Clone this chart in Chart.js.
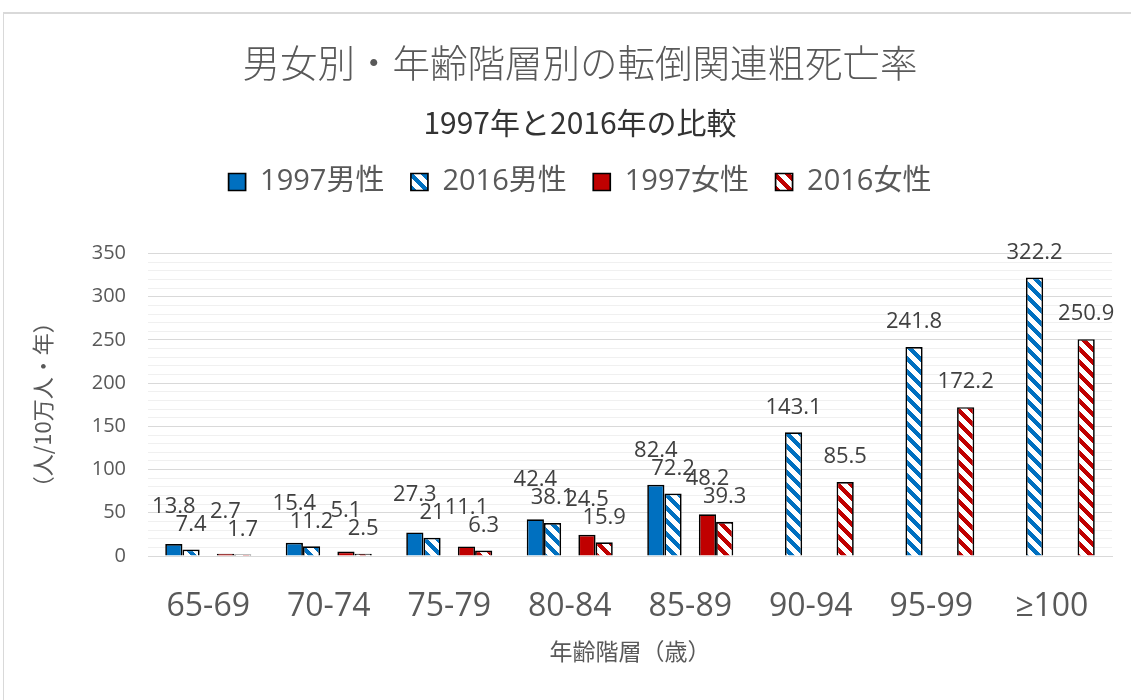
<!DOCTYPE html>
<html lang="ja">
<head>
<meta charset="utf-8">
<title>男女別・年齢階層別の転倒関連粗死亡率</title>
<script src="https://cdn.jsdelivr.net/npm/chart.js@4.4.1/dist/chart.umd.min.js"></script>
<style>
  html, body { margin: 0; padding: 0; background: #fff; overflow: hidden; }
  #frame { position: absolute; left: 3px; top: 12px; width: 1200px; height: 720px;
           border-left: 1px solid #d9d9d9; border-top: 2px solid #d9d9d9; }
  #chart { position: absolute; left: 0; top: 0; }
</style>
</head>
<body>
<div id="frame"></div>
<canvas id="chart" width="1131" height="700"></canvas>
<script>
// データ
const ageGroups = ['65-69', '70-74', '75-79', '80-84', '85-89', '90-94', '95-99', '≥100'];
const male1997 = [13.8, 15.4, 27.3, 42.4, 82.4, null, null, null];
const male2016 = [7.4, 11.2, 21, 38.1, 72.2, 143.1, 241.8, 322.2];
const female1997 = [2.7, 5.1, 11.1, 24.5, 48.2, null, null, null];
const female2016 = [1.7, 2.5, 6.3, 15.9, 39.3, 85.5, 172.2, 250.9];
const yTickLabels = [0, 50, 100, 150, 200, 250, 300, 350];

const BLUE = '#0070C0';
const RED = '#C00000';
const GREY = '#595959';
const LATIN = "'Open Sans', 'Noto Sans CJK JP', sans-serif";
const CJK = "'Noto Sans CJK JP', 'Open Sans', sans-serif";

// 斜線パターン (右下がり)
function makeStripes(color) {
    const size = 13;
    const band = 6;
    const c = document.createElement('canvas');
    c.width = size; c.height = size;
    const g = c.getContext('2d');
    g.fillStyle = '#fff';
    g.fillRect(0, 0, size, size);
    g.fillStyle = color;
    for (let y = 0; y < size; y++) {
        for (let k = 0; k < band; k++) {
            g.fillRect((y + k) % size, y, 1, 1);
        }
    }
    return g.createPattern(c, 'repeat');
}

// データラベル (重なる時は1997年を上にずらす)
const valueLabels = {
    id: 'valueLabels',
    afterDatasetsDraw(chart) {
        const ctx = chart.ctx;
        ctx.save();
        ctx.font = '22px ' + LATIN;
        ctx.fillStyle = '#404040';
        ctx.textAlign = 'center';
        ctx.textBaseline = 'middle';
        const pairs = [[0, 1], [3, 4]];
        ageGroups.forEach((_, i) => {
            pairs.forEach(([a, b]) => {
                const vA = chart.data.datasets[a].data[i];
                const vB = chart.data.datasets[b].data[i];
                const barA = chart.getDatasetMeta(a).data[i];
                const barB = chart.getDatasetMeta(b).data[i];
                const yB = barB.y - 25;
                if (vA != null) {
                    const yA = Math.min(barA.y - 25, yB - 18);
                    ctx.fillText(String(vA), barA.x, yA);
                }
                if (vB != null) ctx.fillText(String(vB), barB.x, yB);
            });
        });
        ctx.restore();
    }
};

document.addEventListener('DOMContentLoaded', function () {
    const ctx = document.getElementById('chart').getContext('2d');
    const barStyle = { borderColor: '#000', borderWidth: 1.7, barPercentage: 1.0, categoryPercentage: 0.714 };

    new Chart(ctx, {
        type: 'bar',
        data: {
            labels: ageGroups,
            datasets: [
                { label: '1997男性', data: male1997, backgroundColor: BLUE, ...barStyle },
                { label: '2016男性', data: male2016, backgroundColor: makeStripes(BLUE), ...barStyle },
                { label: '', data: ageGroups.map(() => null), backgroundColor: 'transparent', ...barStyle },
                { label: '1997女性', data: female1997, backgroundColor: RED, ...barStyle },
                { label: '2016女性', data: female2016, backgroundColor: makeStripes(RED), ...barStyle }
            ]
        },
        options: {
            responsive: false,
            animation: false,
            devicePixelRatio: 1,
            layout: { padding: { top: 0, right: 19, bottom: 0, left: 48 } },
            plugins: {
                title: {
                    display: true,
                    text: '男女別・年齢階層別の転倒関連粗死亡率',
                    color: GREY,
                    font: { family: CJK, size: 37.5, weight: '300' },
                    padding: { top: 40.5, bottom: 0 }
                },
                subtitle: {
                    display: true,
                    text: '1997年と2016年の比較',
                    color: '#333333',
                    font: { family: CJK, size: 30, weight: 'normal' },
                    padding: { top: 19.5, bottom: 0 }
                },
                legend: {
                    position: 'top',
                    labels: {
                        filter: item => item.text !== '',
                        boxWidth: 17,
                        boxHeight: 17,
                        padding: 26.5,
                        color: GREY,
                        font: { family: LATIN, size: 29 }
                    }
                },
                tooltip: { enabled: false }
            },
            scales: {
                x: {
                    grid: { display: false },
                    border: { color: '#d9d9d9', width: 1 },
                    ticks: { color: GREY, font: { family: LATIN, size: 32 }, padding: 24 },
                    title: {
                        display: true,
                        text: '年齢階層（歳）',
                        color: GREY,
                        font: { family: CJK, size: 23 },
                        padding: { top: 0, bottom: 35 }
                    },
                    afterFit: s => { s.height = 144; }
                },
                xTop: {
                    type: 'category',
                    position: 'top',
                    grid: { display: false },
                    border: { display: false },
                    ticks: { display: false },
                    afterFit: s => { s.height = 47; }
                },
                y: {
                    min: 0,
                    max: 350,
                    border: { display: false },
                    grid: {
                        drawTicks: false,
                        color: c => (c.tick.value % 50 === 0 ? '#d9d9d9' : '#f0f0f0'),
                        lineWidth: 1
                    },
                    ticks: {
                        stepSize: 10,
                        autoSkip: false,
                        padding: 22,
                        color: GREY,
                        font: { family: LATIN, size: 20 },
                        callback: v => (yTickLabels.includes(v) ? v : '')
                    },
                    title: {
                        display: true,
                        text: '（人/10万人・年）',
                        color: GREY,
                        font: { family: CJK, size: 22 },
                        padding: { top: -19, bottom: 0 }
                    },
                    afterFit: s => { s.width = 100; }
                }
            }
        },
        plugins: [valueLabels]
    });
});
</script>
</body>
</html>
